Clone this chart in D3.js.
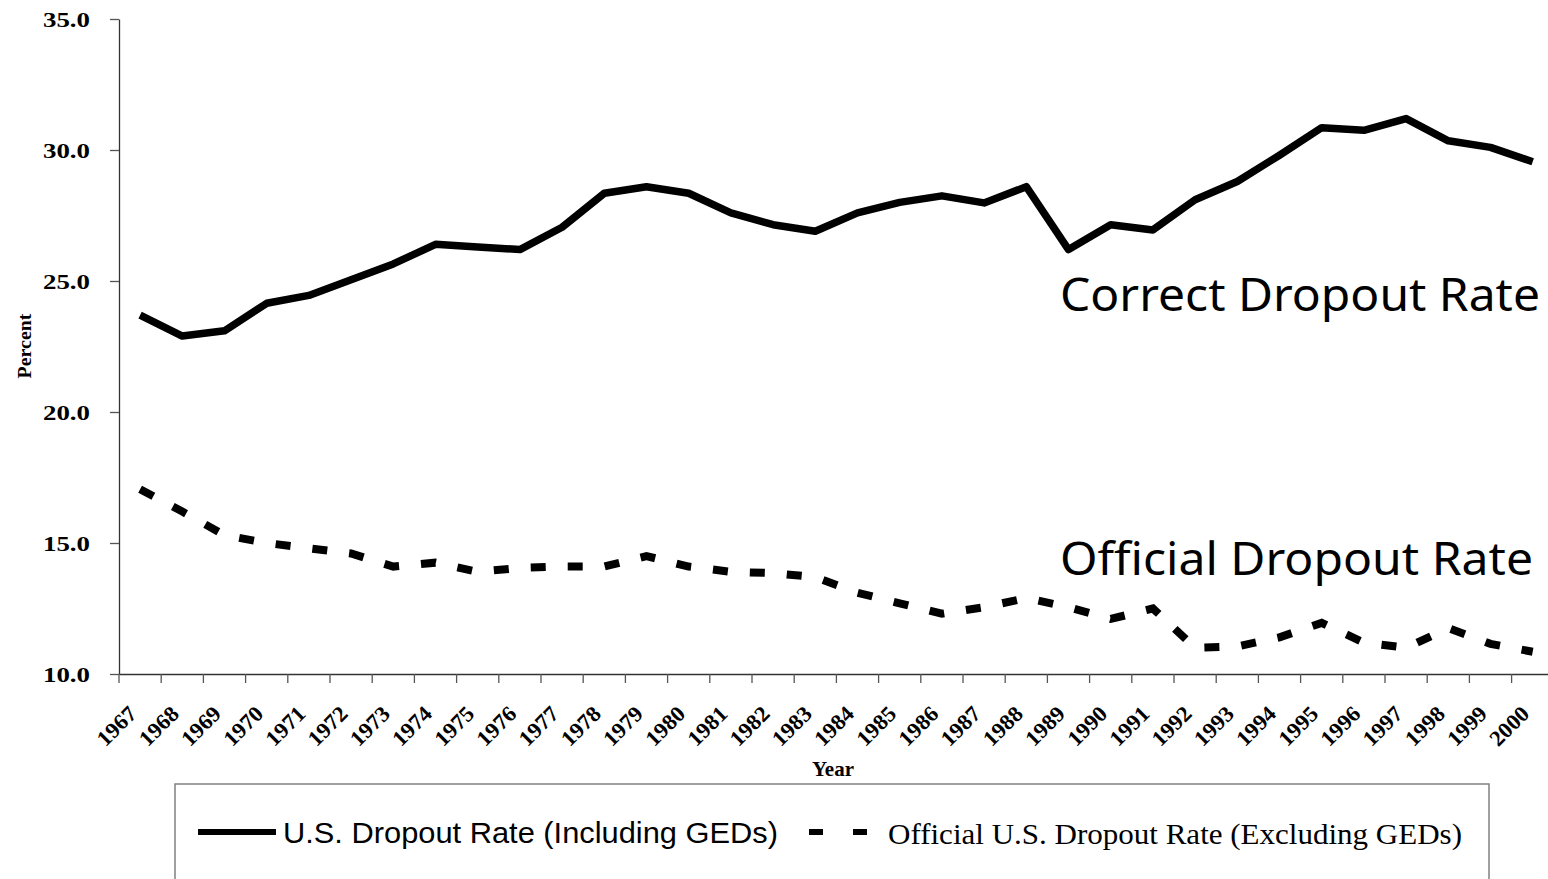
<!DOCTYPE html>
<html>
<head>
<meta charset="utf-8">
<script src="https://d3js.org/d3.v7.min.js"></script>
<style>
  body { margin: 0; background: #fff; }
  svg { display: block; }
</style>
</head>
<body>
<div id="chart"></div>
<script>
// chart data
let years = ["1967", "1968", "1969", "1970", "1971", "1972", "1973", "1974", "1975", "1976", "1977",
  "1978", "1979", "1980", "1981", "1982", "1983", "1984", "1985", "1986", "1987", "1988",
  "1989", "1990", "1991", "1992", "1993", "1994", "1995", "1996", "1997", "1998", "1999", "2000"];

// U.S. dropout rate including GEDs
let correctRate = [23.7, 22.9, 23.1, 24.15, 24.45, 25.05, 25.65, 26.4, 26.3, 26.2, 27.05,
  28.35, 28.6, 28.35, 27.6, 27.15, 26.9, 27.6, 28.0, 28.25, 27.98, 28.6,
  26.2, 27.15, 26.95, 28.1, 28.8, 29.8, 30.85, 30.75, 31.2, 30.35, 30.1, 29.55];

// official rate, excluding GEDs
let officialRate = [17.05, 16.2, 15.3, 15.0, 14.8, 14.6, 14.1, 14.25, 13.9, 14.05, 14.1,
  14.1, 14.5, 14.1, 13.9, 13.85, 13.7, 13.1, 12.7, 12.3, 12.55, 12.9,
  12.55, 12.1, 12.5, 11.0, 11.05, 11.4, 11.95, 11.2, 11.0, 11.75, 11.15, 10.85];

let yTicks = [10, 15, 20, 25, 30, 35];

let svgWidth = 1548;
let svgHeight = 879;

let plot = { left: 119, top: 19, bottom: 674, bandWidth: 42.2 };

let svg = d3.select("#chart")
  .append("svg")
  .attr("width", svgWidth)
  .attr("height", svgHeight);

let serif = "'Liberation Serif', 'Times New Roman', serif";
let sans = "'Liberation Sans', Arial, sans-serif";

// scales
let xScale = d3.scaleBand()
  .domain(years)
  .range([plot.left, plot.left + plot.bandWidth * years.length])
  .padding(0);

let yScale = d3.scaleLinear()
  .domain([10, 35])
  .range([plot.bottom, plot.top]);

let cx = d => xScale(d) + xScale.bandwidth() / 2;

// y axis
let yAxis = svg.append("g")
  .attr("transform", `translate(${plot.left}, 0)`)
  .call(d3.axisLeft(yScale).tickValues(yTicks).tickFormat(d3.format(".1f")).tickSize(9).tickSizeOuter(0));

yAxis.select(".domain").attr("stroke", "#333").attr("stroke-width", 1.3);
yAxis.selectAll(".tick line").attr("stroke", "#555").attr("stroke-width", 1.3);
yAxis.selectAll(".tick text")
  .attr("x", -29)
  .attr("dy", "0.35em")
  .attr("font-family", serif)
  .attr("font-weight", "bold")
  .attr("font-size", "21px")
  .attr("fill", "#000")
  .attr("textLength", 47)
  .attr("lengthAdjust", "spacingAndGlyphs");

// x axis, ticks sit between the categories
let xAxis = svg.append("g")
  .attr("transform", `translate(0, ${plot.bottom})`)
  .call(d3.axisBottom(xScale).tickSize(9).tickSizeOuter(0));

xAxis.select(".domain").attr("stroke", "#333").attr("stroke-width", 1.3);
xAxis.selectAll(".tick line")
  .attr("stroke", "#555")
  .attr("stroke-width", 1.3)
  .attr("transform", `translate(${-xScale.bandwidth() / 2}, 0)`);
xAxis.selectAll(".tick text")
  .attr("y", null)
  .attr("dy", null)
  .attr("text-anchor", "end")
  .attr("transform", "translate(-2, 41) rotate(-45)")
  .attr("font-family", serif)
  .attr("font-weight", "bold")
  .attr("font-size", "22px")
  .attr("fill", "#000")
  .attr("textLength", 46)
  .attr("lengthAdjust", "spacingAndGlyphs");

// axis titles
svg.append("text")
  .attr("x", 833)
  .attr("y", 776)
  .attr("text-anchor", "middle")
  .attr("font-family", serif)
  .attr("font-weight", "bold")
  .attr("font-size", "21px")
  .text("Year");

svg.append("text")
  .attr("transform", "translate(31, 346) rotate(-90)")
  .attr("text-anchor", "middle")
  .attr("font-family", serif)
  .attr("font-weight", "bold")
  .attr("font-size", "18px")
  .attr("textLength", 65)
  .attr("lengthAdjust", "spacingAndGlyphs")
  .text("Percent");

// lines
let rateLine = d3.line()
  .x((d, i) => cx(years[i]))
  .y(d => yScale(d));

svg.append("path")
  .datum(correctRate)
  .attr("d", rateLine)
  .attr("fill", "none")
  .attr("stroke", "#000")
  .attr("stroke-width", 7.5)
  .attr("stroke-linejoin", "round");

svg.append("path")
  .datum(officialRate)
  .attr("d", rateLine)
  .attr("fill", "none")
  .attr("stroke", "#000")
  .attr("stroke-width", 8)
  .attr("stroke-dasharray", "15,22");

// annotations
svg.append("text")
  .attr("x", 1060)
  .attr("y", 311)
  .attr("font-family", "'Noto Sans', 'Open Sans', sans-serif")
  .attr("font-size", "45px")
  .attr("textLength", 480)
  .attr("lengthAdjust", "spacingAndGlyphs")
  .text("Correct Dropout Rate");

svg.append("text")
  .attr("x", 1060)
  .attr("y", 575)
  .attr("font-family", "'Noto Sans', 'Open Sans', sans-serif")
  .attr("font-size", "45px")
  .attr("textLength", 473)
  .attr("lengthAdjust", "spacingAndGlyphs")
  .text("Official Dropout Rate");

// legend
let legend = svg.append("g");

legend.append("rect")
  .attr("x", 175)
  .attr("y", 784)
  .attr("width", 1314)
  .attr("height", 120)
  .attr("fill", "#fff")
  .attr("stroke", "#808080")
  .attr("stroke-width", 1.5);

legend.append("line")
  .attr("x1", 198).attr("x2", 276)
  .attr("y1", 832).attr("y2", 832)
  .attr("stroke", "#000")
  .attr("stroke-width", 6);

legend.append("text")
  .attr("x", 283)
  .attr("y", 843)
  .attr("font-family", sans)
  .attr("font-size", "29px")
  .attr("textLength", 495)
  .attr("lengthAdjust", "spacingAndGlyphs")
  .text("U.S. Dropout Rate (Including GEDs)");

legend.append("line")
  .attr("x1", 809).attr("x2", 868)
  .attr("y1", 832).attr("y2", 832)
  .attr("stroke", "#000")
  .attr("stroke-width", 6)
  .attr("stroke-dasharray", "14,30");

legend.append("text")
  .attr("x", 888)
  .attr("y", 844)
  .attr("font-family", serif)
  .attr("font-size", "30px")
  .attr("textLength", 574)
  .attr("lengthAdjust", "spacingAndGlyphs")
  .text("Official U.S. Dropout Rate (Excluding GEDs)");
</script>
</body>
</html>
